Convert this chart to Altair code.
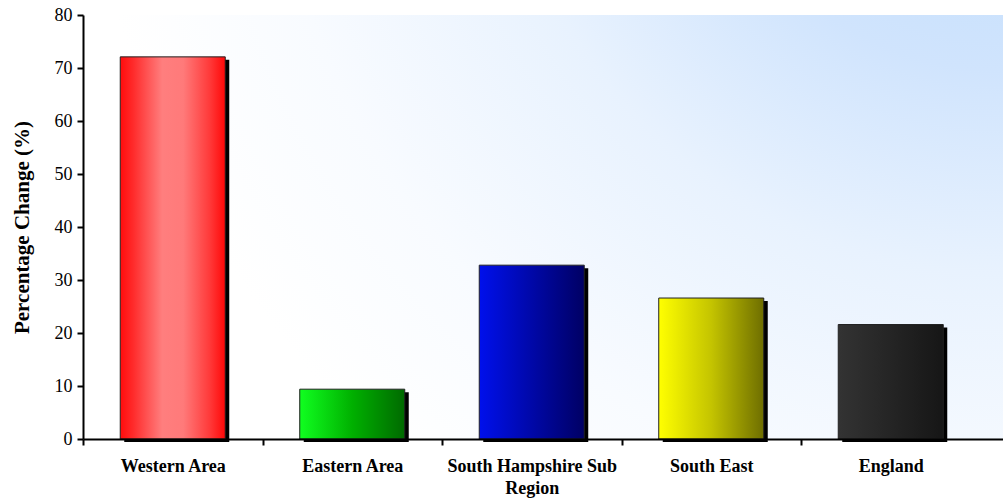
import altair as alt
import pandas as pd

# Percentage change by area
regions = ["Western Area", "Eastern Area", "South Hampshire Sub Region", "South East", "England"]
pct_change = [72.1, 9.4, 32.8, 26.6, 21.6]

df = pd.DataFrame({"region": regions, "change": pct_change})

SERIF = "Liberation Serif"
PLOT_W, PLOT_H = 920, 424
STEP = 179.5          # category spacing in px
INNER = 0.415         # gap between bars as a share of STEP
OUTER = (PLOT_W / STEP - len(regions) + INNER) / 2
ALIGN = (INNER / 2) / (2 * OUTER)

# horizontal shading for each bar
bar_stops = {
    "Western Area": [(0, "#ff0c0c"), (0.12, "#ff2a2a"), (0.4, "#ff7e7e"), (0.6, "#ff7a7a"), (0.85, "#ff3a3a"), (1, "#ff0808")],
    "Eastern Area": [(0, "#10ff20"), (0.5, "#00b000"), (1, "#006a00")],
    "South Hampshire Sub Region": [(0, "#0010ec"), (0.5, "#0008a8"), (1, "#000064")],
    "South East": [(0, "#ffff00"), (0.5, "#c4c400"), (1, "#6e6e00")],
    "England": [(0, "#333333"), (1, "#161616")],
}


def linear(stops):
    return alt.LinearGradient(
        gradient="linear", x1=0, x2=1, y1=0, y2=0,
        stops=[alt.GradientStop(offset=o, color=c) for o, c in stops],
    )


x_enc = alt.X(
    "region:N",
    sort=regions,
    scale=alt.Scale(domain=regions, paddingInner=INNER, paddingOuter=OUTER, align=ALIGN),
    axis=alt.Axis(
        title=None,
        labelAngle=0,
        labelFont=SERIF,
        labelFontSize=18,
        labelFontWeight="bold",
        labelColor="black",
        labelPadding=12,
        labelLineHeight=22,
        labelExpr="datum.value == 'South Hampshire Sub Region' ? ['South Hampshire Sub', 'Region'] : datum.value",
        # ticks sit between categories, labels stay centred under the bars
        tickOffset=-STEP / 2,
        labelOffset=STEP / 2,
        tickSize=6,
        tickWidth=2,
        tickColor="black",
        domainColor="black",
        domainWidth=2,
        zindex=2,
    ),
)

y_enc = alt.Y(
    "change:Q",
    scale=alt.Scale(domain=[0, 80], nice=False),
    axis=alt.Axis(
        title="Percentage Change (%)",
        titleFont=SERIF,
        titleFontSize=21,
        titleFontWeight="bold",
        titleColor="black",
        titlePadding=22,
        values=list(range(0, 81, 10)),
        labelFont=SERIF,
        labelFontSize=18,
        labelColor="black",
        labelPadding=5,
        tickSize=6,
        tickWidth=2,
        tickColor="black",
        domainColor="black",
        domainWidth=2,
        grid=False,
        zindex=2,
    ),
)

# plot-area backdrop: pale blue in the upper right corner fading to white
backdrop = alt.Chart(pd.DataFrame({"k": [0]})).mark_rect(
    fill=alt.RadialGradient(
        gradient="radial",
        x1=1, y1=0, r1=0,
        x2=1, y2=0, r2=1,
        stops=[
            alt.GradientStop(offset=0, color="#bbdbfc"),
            alt.GradientStop(offset=0.33, color="#d0e4fd"),
            alt.GradientStop(offset=0.55, color="#e8f2fe"),
            alt.GradientStop(offset=0.8, color="#f8fbff"),
            alt.GradientStop(offset=1, color="#ffffff"),
        ],
    )
).encode(x=alt.value(0), x2=alt.value("width"), y=alt.value(0), y2=alt.value("height"))

base = alt.Chart(df)

# drop shadow behind each bar
shadow = base.mark_bar(color="black", xOffset=4, yOffset=3).encode(x=x_enc, y=y_enc)

layers = [backdrop, shadow]
for name in regions:
    layers.append(
        base.transform_filter(alt.datum.region == name)
        .mark_bar(color=linear(bar_stops[name]), stroke="#222222", strokeWidth=1)
        .encode(x=x_enc, y=y_enc)
    )

chart = (
    alt.layer(*layers)
    .properties(
        width=PLOT_W,
        height=PLOT_H,
        autosize=alt.AutoSizeParams(type="none"),
        padding={"left": 83, "top": 15, "right": 0, "bottom": 61},
        background="white",
    )
    .configure_view(stroke="transparent")
)

chart.save("out.html", embed_options={"renderer": "svg", "actions": False})
